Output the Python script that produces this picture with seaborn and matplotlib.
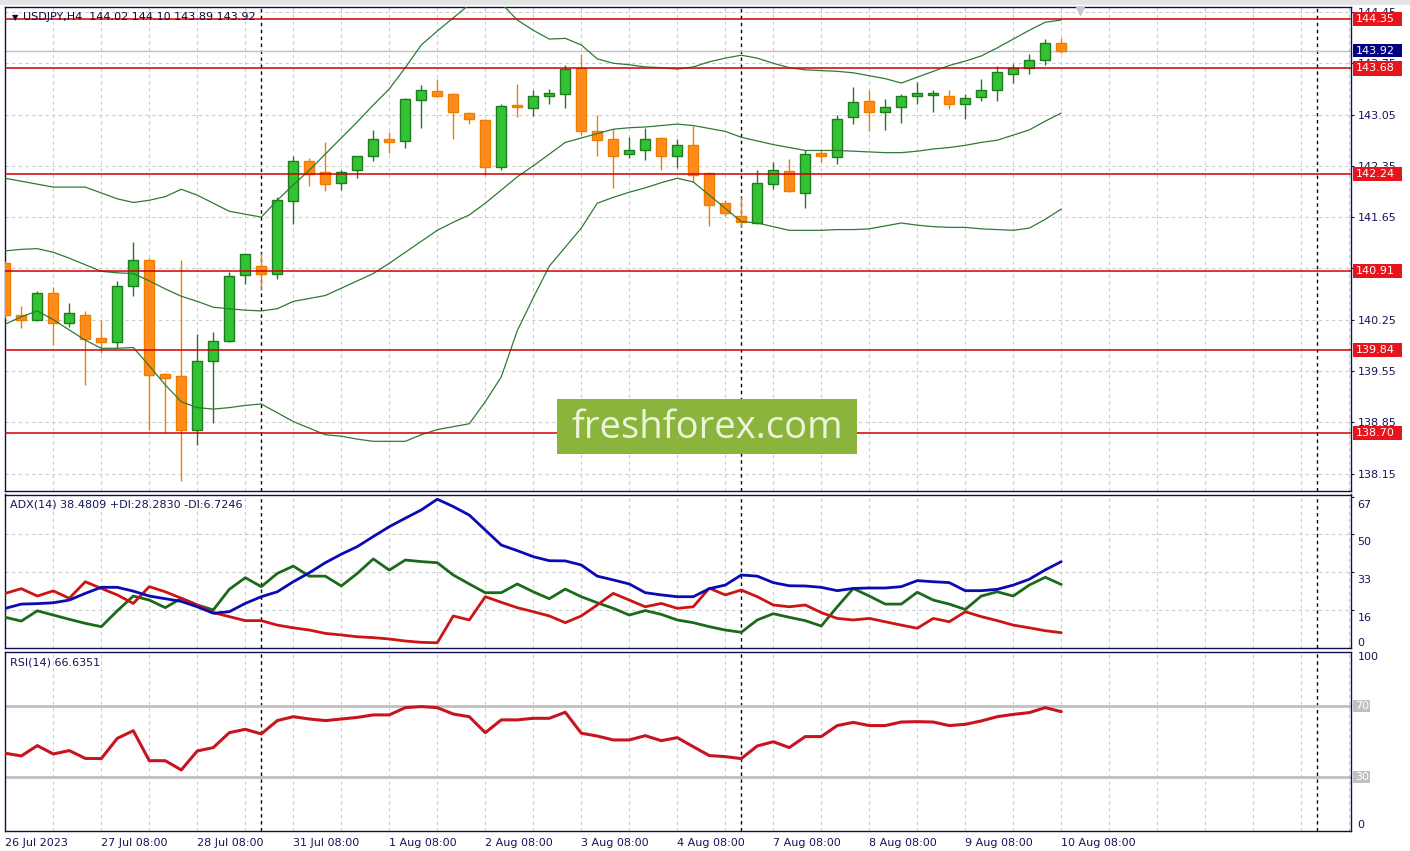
import matplotlib
matplotlib.use('Agg')
import matplotlib.pyplot as plt
import matplotlib.transforms as mtransforms
from matplotlib.patches import Rectangle
import numpy as np
import seaborn as sns

# USDJPY H4 bars, 26 Jul 08:00 .. 10 Aug 08:00 2023
open_ = [141.03, 140.32, 140.24, 140.62, 140.20, 140.32, 140.00, 139.95, 140.71, 141.06,
         139.51, 139.48, 138.74, 139.68, 139.96, 140.86, 140.98, 140.87, 141.87, 142.41,
         142.26, 142.11, 142.29, 142.48, 142.71, 142.69, 143.25, 143.37, 143.33, 143.07,
         142.98, 142.33, 143.18, 143.14, 143.30, 143.33, 143.68, 142.82, 142.71, 142.51,
         142.56, 142.73, 142.49, 142.63, 142.25, 141.84, 141.67, 141.57, 142.10, 142.28,
         141.98, 142.52, 142.47, 143.01, 143.23, 143.08, 143.15, 143.30, 143.32, 143.31,
         143.19, 143.29, 143.38, 143.61, 143.68, 143.79, 144.02]
high = [141.05, 140.44, 140.64, 140.69, 140.48, 140.37, 140.25, 140.78, 141.31, 141.09,
        139.52, 141.06, 140.06, 140.08, 140.90, 141.16, 141.16, 141.93, 142.48, 142.46,
        142.67, 142.30, 142.49, 142.84, 142.81, 143.28, 143.45, 143.53, 143.35, 143.09,
        142.99, 143.20, 143.47, 143.39, 143.40, 143.73, 143.88, 143.04, 142.85, 142.75,
        142.87, 142.75, 142.71, 142.90, 142.26, 141.88, 141.92, 142.29, 142.40, 142.44,
        142.57, 142.57, 143.04, 143.43, 143.39, 143.26, 143.33, 143.49, 143.39, 143.39,
        143.33, 143.54, 143.71, 143.74, 143.88, 144.08, 144.10]
low = [140.28, 140.14, 140.23, 139.90, 140.15, 139.36, 139.80, 139.86, 140.58, 138.74,
       138.70, 138.05, 138.54, 138.84, 139.95, 140.74, 140.66, 140.81, 141.56, 142.07,
       142.00, 142.02, 142.19, 142.42, 142.52, 142.60, 142.86, 143.29, 142.71, 142.92,
       142.23, 142.30, 143.01, 143.03, 143.19, 143.14, 142.77, 142.49, 142.05, 142.46,
       142.43, 142.30, 142.32, 142.13, 141.53, 141.67, 141.52, 141.56, 142.04, 141.99,
       141.78, 142.40, 142.37, 142.92, 142.82, 142.84, 142.94, 143.20, 143.08, 143.13,
       142.99, 143.23, 143.23, 143.48, 143.60, 143.72, 143.89]
close = [140.32, 140.24, 140.61, 140.21, 140.34, 139.98, 139.95, 140.71, 141.07, 139.50,
         139.46, 138.75, 139.68, 139.96, 140.84, 141.14, 140.88, 141.88, 142.41, 142.24,
         142.10, 142.26, 142.48, 142.71, 142.67, 143.26, 143.38, 143.31, 143.08, 142.99,
         142.33, 143.17, 143.15, 143.31, 143.34, 143.67, 142.83, 142.70, 142.49, 142.56,
         142.71, 142.48, 142.64, 142.23, 141.82, 141.70, 141.59, 142.12, 142.29, 142.00,
         142.51, 142.49, 142.99, 143.22, 143.08, 143.15, 143.30, 143.35, 143.35, 143.19,
         143.27, 143.39, 143.63, 143.69, 143.79, 144.02, 143.92]

bb_upper = [142.18, 142.14, 142.10, 142.06, 142.06, 142.06, 141.98, 141.90, 141.85, 141.88,
            141.93, 142.03, 141.95, 141.84, 141.73, 141.69, 141.65, 141.88, 142.09, 142.29,
            142.51, 142.73, 142.95, 143.18, 143.40, 143.69, 144.00, 144.19, 144.37, 144.55,
            144.59, 144.57, 144.34, 144.20, 144.08, 144.09, 144.00, 143.81, 143.75, 143.73,
            143.70, 143.69, 143.67, 143.70, 143.77, 143.82, 143.86, 143.82, 143.75, 143.69,
            143.66, 143.65, 143.64, 143.62, 143.58, 143.54, 143.48, 143.56, 143.64, 143.72,
            143.78, 143.85, 143.96, 144.08, 144.20, 144.31, 144.34]
bb_mid = [141.19, 141.21, 141.22, 141.17, 141.09, 141.00, 140.91, 140.89, 140.88, 140.78,
          140.67, 140.57, 140.50, 140.42, 140.40, 140.38, 140.37, 140.40, 140.50, 140.54,
          140.58, 140.68, 140.78, 140.88, 141.02, 141.17, 141.32, 141.47, 141.58, 141.68,
          141.84, 142.02, 142.20, 142.35, 142.51, 142.67, 142.73, 142.79, 142.85, 142.87,
          142.88, 142.90, 142.92, 142.90, 142.86, 142.82, 142.74, 142.69, 142.64, 142.60,
          142.56, 142.56, 142.56, 142.55, 142.54, 142.53, 142.53, 142.55, 142.58, 142.60,
          142.63, 142.67, 142.70, 142.77, 142.84, 142.96, 143.07]
bb_lower = [140.19, 140.29, 140.37, 140.25, 140.11, 139.97, 139.86, 139.86, 139.87, 139.62,
            139.36, 139.13, 139.05, 139.03, 139.05, 139.08, 139.10, 138.98, 138.86, 138.77,
            138.68, 138.66, 138.62, 138.59, 138.59, 138.59, 138.68, 138.75, 138.79, 138.83,
            139.13, 139.47, 140.10, 140.55, 140.98, 141.24, 141.50, 141.84, 141.92, 141.99,
            142.05, 142.12, 142.18, 142.13, 141.95, 141.77, 141.59, 141.57, 141.52, 141.47,
            141.47, 141.47, 141.48, 141.48, 141.49, 141.53, 141.57, 141.54, 141.52, 141.51,
            141.51, 141.49, 141.48, 141.47, 141.50, 141.62, 141.76]

adx = [17.6, 19.5, 19.7, 20.1, 21.3, 24.3, 27.0, 27.0, 25.3, 23.1, 21.9, 20.7, 18.3, 15.4,
       16.1, 19.8, 22.8, 25.0, 29.5, 33.5, 38.0, 41.8, 45.2, 49.7, 54.1, 57.9, 61.6, 66.4,
       63.1, 59.3, 52.6, 45.9, 43.4, 40.7, 38.9, 38.8, 37.0, 32.0, 30.3, 28.5, 24.6, 23.6,
       22.8, 22.8, 26.4, 28.0, 32.5, 32.0, 29.1, 27.7, 27.6, 27.0, 25.5, 26.5, 26.7, 26.7,
       27.3, 30.0, 29.5, 29.1, 25.5, 25.5, 26.1, 28.0, 30.6, 34.8, 38.48]
plus_di = [13.6, 11.9, 16.5, 14.6, 12.7, 10.9, 9.4, 16.5, 23.1, 21.3, 17.9, 22.1, 19.1, 16.9,
           26.1, 31.3, 27.3, 33.2, 36.5, 32.0, 32.0, 27.6, 33.2, 39.7, 34.7, 39.2, 38.5, 38.0,
           32.5, 28.5, 24.6, 24.6, 28.5, 25.0, 21.9, 26.2, 22.8, 20.1, 17.6, 14.6, 16.6, 14.9,
           12.4, 11.2, 9.4, 7.9, 6.9, 12.4, 15.2, 13.6, 12.1, 9.7, 18.3, 26.5, 23.1, 19.5,
           19.5, 24.8, 21.3, 19.5, 17.1, 23.1, 25.0, 23.1, 28.0, 31.5, 28.28]
minus_di = [24.3, 26.4, 23.1, 25.4, 22.1, 29.5, 26.5, 23.6, 19.8, 27.3, 25.0, 22.1, 19.1, 15.7,
            13.9, 12.1, 12.1, 10.1, 8.9, 7.9, 6.4, 5.7, 4.9, 4.5, 3.9, 3.0, 2.4, 2.2,
            14.2, 12.4, 22.8, 20.3, 17.9, 16.1, 14.2, 11.2, 14.2, 19.1, 24.3, 21.3, 18.3, 19.8,
            17.6, 18.3, 26.6, 23.6, 25.8, 22.8, 19.1, 18.3, 19.1, 15.7, 13.1, 12.4, 13.1, 11.6,
            10.1, 8.7, 13.1, 11.6, 16.1, 13.9, 12.1, 10.1, 8.9, 7.6, 6.72]
rsi = [43.2, 41.7, 47.5, 42.8, 44.7, 40.3, 40.2, 51.6, 55.9, 39.0, 39.0, 33.8, 44.5, 46.4,
       54.8, 56.7, 54.1, 61.6, 63.8, 62.5, 61.6, 62.5, 63.4, 64.8, 64.8, 68.9, 69.5, 68.9,
       65.3, 63.8, 54.8, 62.0, 62.0, 62.9, 62.9, 66.3, 54.5, 52.9, 50.7, 50.7, 53.1, 50.3,
       52.0, 46.9, 41.9, 41.3, 40.2, 47.3, 49.7, 46.4, 52.6, 52.6, 58.8, 60.6, 58.8, 58.8,
       60.8, 61.0, 60.8, 58.8, 59.5, 61.4, 63.8, 65.1, 66.1, 68.9, 66.64]

levels = [144.35, 143.68, 142.24, 140.91, 139.84, 138.70]
bid = 143.92
price_ticks = [138.15, 138.85, 139.55, 140.25, 140.95, 141.65, 142.35, 143.05, 143.75, 144.45]
adx_ticks = [16.9, 33.8, 50.7, 67.6]
adx_tick_labels = ['16', '33', '50', '67']
date_pos = [0, 6, 12, 18, 24, 30, 36, 42, 48, 54, 60, 66]
date_labels = ['26 Jul 2023', '27 Jul 08:00', '28 Jul 08:00', '31 Jul 08:00', '1 Aug 08:00',
               '2 Aug 08:00', '3 Aug 08:00', '4 Aug 08:00', '7 Aug 08:00', '8 Aug 08:00',
               '9 Aug 08:00', '10 Aug 08:00']
week_seps = [16, 46, 82]

sns.set_style('white')
plt.rcParams['font.family'] = ['DejaVu Sans']

NAVY = '#14145a'
GRID = '#cccccc'
W, H = 1410, 851
fig = plt.figure(figsize=(14.1, 8.51), dpi=100)


def box(top, bottom, left=4.5, right=1351):
    return [left / W, 1 - bottom / H, (right - left) / W, (bottom - top) / H]


ax = fig.add_axes(box(7, 491))
ax_adx = fig.add_axes(box(494.5, 648))
ax_rsi = fig.add_axes(box(652, 831))

xs = np.arange(len(close))
o, h, l, c = map(np.array, (open_, high, low, close))
xlim = (-0.05, 84.11)
dash = (0, (3, 3))

for a in (ax, ax_adx, ax_rsi):
    a.set_xlim(*xlim)
    for k in range(3, 85, 3):
        a.axvline(k, color=GRID, lw=0.8, ls=dash, zorder=0)
    for s in week_seps:
        a.axvline(s, color='black', lw=1, ls=(0, (2.5, 2.5)), zorder=1)
    for sp in a.spines.values():
        sp.set_color('#10104a')
        sp.set_linewidth(1)
    a.yaxis.tick_right()
    a.tick_params(axis='both', direction='out', length=2.2, pad=2.6, labelsize=8,
                  colors=NAVY)

# ---- price panel ----
ax.set_ylim(137.912, 144.518)
for t in price_ticks:
    ax.axhline(t, color=GRID, lw=0.8, ls=dash, zorder=0)
ax.axhline(bid, color='#c0c0c0', lw=1, zorder=1)

up = c >= o
body_fc = np.where(up, '#33c233', '#ff8c1a')
body_ec = np.where(up, '#1e7b1e', '#f07d00')
ax.vlines(xs, l, h, colors=body_ec, lw=1, zorder=3)
ax.bar(xs, np.maximum(np.abs(c - o), 0.012), bottom=np.minimum(o, c), width=0.62,
       color=body_fc, edgecolor=body_ec, lw=1, zorder=4)

for band in (bb_upper, bb_mid, bb_lower):
    sns.lineplot(x=xs, y=band, ax=ax, color='#2e7b32', lw=0.9, zorder=5)
for lv in levels:
    ax.axhline(lv, color='#cc0000', lw=1.1, zorder=6)

ax.set_xticks([])
ax.set_yticks(price_ticks, [f'{t:.2f}' for t in price_ticks])
ax.set_xlabel('')
ax.set_ylabel('')


def tag(axis, y, text, fc, hgt, w=49):
    tr = axis.get_yaxis_transform()
    axis.add_patch(Rectangle((1 + 1.5 / 1346.5, y - hgt / 2), w / 1346.5, hgt, transform=tr,
                             fc=fc, ec='none', clip_on=False, zorder=10))
    axis.text(1 + 4.5 / 1346.5, y, text, transform=tr, color='white', fontsize=8,
              va='center', ha='left', clip_on=False, zorder=11)


for lv in levels:
    tag(ax, lv, f'{lv:.2f}', '#e8141c', 0.195)
tag(ax, bid, f'{bid:.2f}', '#000080', 0.18)

ax.text(7.5 / 1346.5, 0.9793, '\u25bc', transform=ax.transAxes, fontsize=6, color='#0a0a3c',
        va='center', ha='left', zorder=12)
ax.text(18.5 / 1346.5, 0.9793, 'USDJPY,H4  144.02 144.10 143.89 143.92', transform=ax.transAxes,
        fontsize=8, color='#0a0a3c', va='center', ha='left', zorder=12)
ax.plot([67.2], [0.992], marker='v', ms=6, color='#c8c8d8', transform=ax.get_xaxis_transform(),
        clip_on=False, zorder=12)

# ---- ADX panel ----
ax_adx.set_ylim(-0.13, 68.5)
for t in adx_ticks[:3]:
    ax_adx.axhline(t, color=GRID, lw=0.8, ls=dash, zorder=0)
sns.lineplot(x=xs, y=adx, ax=ax_adx, color='#0a0ab4', lw=2, zorder=4)
sns.lineplot(x=xs, y=plus_di, ax=ax_adx, color='#1a6a1a', lw=2, zorder=3)
sns.lineplot(x=xs, y=minus_di, ax=ax_adx, color='#cc1414', lw=2, zorder=3)
ax_adx.set_xticks([])
ax_adx.set_yticks(adx_ticks)
ax_adx.tick_params(axis='y', labelright=False)
ax_adx.set_xlabel('')
ax_adx.set_ylabel('')
down = mtransforms.ScaledTranslation(0, -3 / 100, fig.dpi_scale_trans)
for t, lab in zip(adx_ticks, adx_tick_labels):
    ax_adx.text(1 + 6.5 / 1346.5, t, lab, transform=ax_adx.get_yaxis_transform() + down,
                fontsize=8, color=NAVY, va='top', ha='left', clip_on=False)
ax_adx.text(1 + 6.5 / 1346.5, 0, '0', transform=ax_adx.get_yaxis_transform(), fontsize=8,
            color=NAVY, va='bottom', ha='left', clip_on=False)
ax_adx.text(5.5 / 1346.5, 0.9316, 'ADX(14) 38.4809 +DI:28.2830 -DI:6.7246',
            transform=ax_adx.transAxes, fontsize=8, color=NAVY, va='center', ha='left')

# ---- RSI panel ----
ax_rsi.set_ylim(-0.6, 100.25)
for lv in (70, 30):
    ax_rsi.axhline(lv, color='#c0c0c0', lw=2, zorder=1)
sns.lineplot(x=xs, y=rsi, ax=ax_rsi, color='#c8141e', lw=2.2, zorder=4)
ax_rsi.set_yticks([])
ax_rsi.set_xticks(date_pos, date_labels, ha='left')
ax_rsi.set_xlabel('')
ax_rsi.set_ylabel('')
for lv in (70, 30):
    tag(ax_rsi, lv, str(lv), '#c0c0c0', 6.6, w=17)
ax_rsi.text(1 + 6.5 / 1346.5, 100, '100', transform=ax_rsi.get_yaxis_transform(), fontsize=8,
            color=NAVY, va='top', ha='left', clip_on=False)
ax_rsi.text(1 + 6.5 / 1346.5, 0, '0', transform=ax_rsi.get_yaxis_transform(), fontsize=8,
            color=NAVY, va='bottom', ha='left', clip_on=False)
ax_rsi.text(5.5 / 1346.5, 0.944, 'RSI(14) 66.6351', transform=ax_rsi.transAxes, fontsize=8,
            color=NAVY, va='center', ha='left')

# window strip on top and the watermark
fig.add_artist(Rectangle((0, 1 - 5 / H), 1, 5 / H, transform=fig.transFigure,
                         fc='#e4e4e4', ec='none', zorder=-1))
fig.add_artist(Rectangle((557 / W, 1 - 454 / H), 300 / W, 55 / H, transform=fig.transFigure,
                         fc='#8bb43c', ec='none', zorder=20))
fig.text(707 / W, 1 - 428 / H, 'freshforex.com', ha='center', va='center', fontsize=27.5,
         color='#eef4dc', family=['Open Sans', 'DejaVu Sans'], zorder=21)

fig.savefig('out.png', dpi=100, facecolor='white')
